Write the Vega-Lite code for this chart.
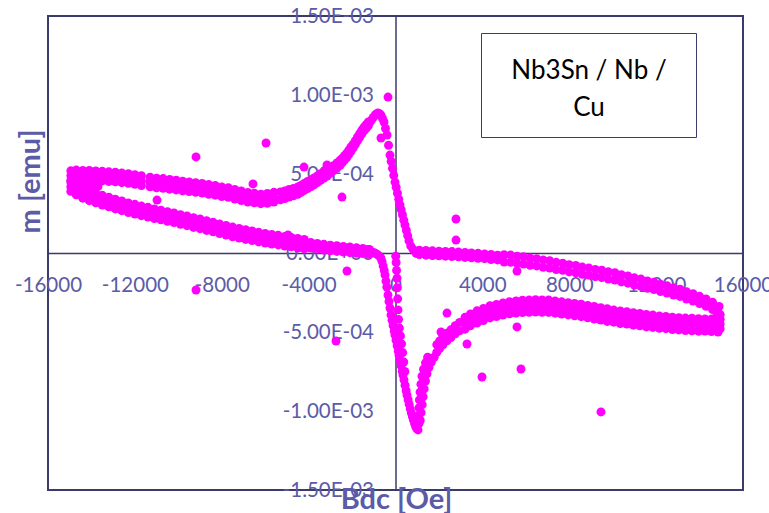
{
  "$schema": "https://vega.github.io/schema/vega-lite/v6.json",
  "width": 695,
  "height": 474,
  "autosize": {"type": "none"},
  "padding": {"left": 48, "top": 16, "right": 26, "bottom": 23},
  "background": "white",
  "config": {"view": {"stroke": "#3b3b6b", "strokeWidth": 2}, "font": "Lato"},
  "data": {"values": [
    {"H":14900,"m":-3.38e-4},{"H":14900,"m":-3.85e-4},
    {"H":14600,"m":-3.12e-4},{"H":14600,"m":-3.58e-4},
    {"H":14300,"m":-2.91e-4},{"H":14300,"m":-3.37e-4},
    {"H":14000,"m":-2.74e-4},{"H":14000,"m":-3.2e-4},
    {"H":13700,"m":-2.58e-4},{"H":13700,"m":-3.04e-4},
    {"H":13400,"m":-2.45e-4},{"H":13400,"m":-2.91e-4},
    {"H":13100,"m":-2.29e-4},{"H":13100,"m":-2.75e-4},
    {"H":12800,"m":-2.2e-4},{"H":12800,"m":-2.66e-4},
    {"H":12500,"m":-2.07e-4},{"H":12500,"m":-2.53e-4},
    {"H":12200,"m":-1.98e-4},{"H":12200,"m":-2.44e-4},
    {"H":11900,"m":-1.85e-4},{"H":11900,"m":-2.31e-4},
    {"H":11600,"m":-1.77e-4},{"H":11600,"m":-2.23e-4},
    {"H":11300,"m":-1.65e-4},{"H":11300,"m":-2.11e-4},
    {"H":11000,"m":-1.57e-4},{"H":11000,"m":-2.03e-4},
    {"H":10700,"m":-1.45e-4},{"H":10700,"m":-1.91e-4},
    {"H":10400,"m":-1.37e-4},{"H":10400,"m":-1.83e-4},
    {"H":10100,"m":-1.25e-4},{"H":10100,"m":-1.71e-4},
    {"H":9800,"m":-1.19e-4},{"H":9800,"m":-1.65e-4},
    {"H":9500,"m":-1.09e-4},{"H":9500,"m":-1.55e-4},
    {"H":9200,"m":-1.04e-4},{"H":9200,"m":-1.5e-4},
    {"H":8900,"m":-0.94e-4},{"H":8900,"m":-1.4e-4},
    {"H":8600,"m":-0.89e-4},{"H":8600,"m":-1.35e-4},
    {"H":8300,"m":-0.79e-4},{"H":8300,"m":-1.25e-4},
    {"H":8000,"m":-0.74e-4},{"H":8000,"m":-1.2e-4},
    {"H":7700,"m":-0.64e-4},{"H":7700,"m":-1.1e-4},
    {"H":7400,"m":-0.59e-4},{"H":7400,"m":-1.05e-4},
    {"H":7100,"m":-0.49e-4},{"H":7100,"m":-0.95e-4},
    {"H":6800,"m":-0.44e-4},{"H":6800,"m":-0.9e-4},
    {"H":6500,"m":-0.36e-4},{"H":6500,"m":-0.82e-4},
    {"H":6200,"m":-0.32e-4},{"H":6200,"m":-0.78e-4},
    {"H":5900,"m":-0.24e-4},{"H":5900,"m":-0.7e-4},
    {"H":5600,"m":-0.2e-4},{"H":5600,"m":-0.66e-4},
    {"H":5300,"m":-0.13e-4},{"H":5300,"m":-0.59e-4},
    {"H":5000,"m":-0.11e-4},{"H":5000,"m":-0.57e-4},
    {"H":4700,"m":-0.14e-4},{"H":4700,"m":-0.44e-4},
    {"H":4400,"m":-0.09e-4},{"H":4400,"m":-0.41e-4},
    {"H":4100,"m":-0.06e-4},{"H":4100,"m":-0.36e-4},
    {"H":3800,"m":-0.02e-4},{"H":3800,"m":-0.34e-4},
    {"H":3500,"m":0},{"H":3500,"m":-0.3e-4},
    {"H":3200,"m":0.04e-4},{"H":3200,"m":-0.28e-4},
    {"H":2900,"m":0.06e-4},{"H":2900,"m":-0.24e-4},
    {"H":2600,"m":0.09e-4},{"H":2600,"m":-0.23e-4},
    {"H":2300,"m":0.1e-4},{"H":2300,"m":-0.2e-4},
    {"H":2000,"m":0.12e-4},{"H":2000,"m":-0.18e-4},
    {"H":1700,"m":0.14e-4},{"H":1700,"m":-0.16e-4},
    {"H":1400,"m":0.16e-4},{"H":1400,"m":-0.14e-4},
    {"H":1100,"m":0.18e-4},{"H":1100,"m":-0.1e-4},
    {"H":900,"m":0.12e-4},{"H":950,"m":-0.02e-4},
    {"H":14950,"m":-3.9e-4},{"H":14950,"m":-4.2e-4},{"H":14950,"m":-4.5e-4},{"H":14950,"m":-4.8e-4},{"H":14850,"m":-5.0e-4},{"H":14800,"m":-3.7e-4},{"H":14750,"m":-4.1e-4},
    {"H":800,"m":0.25e-4},{"H":700,"m":0.45e-4},{"H":620,"m":0.77e-4},{"H":560,"m":1.1e-4},{"H":500,"m":1.43e-4},{"H":437,"m":1.77e-4},{"H":380,"m":2.08e-4},{"H":320,"m":2.42e-4},{"H":260,"m":2.75e-4},{"H":207,"m":3.04e-4},{"H":150,"m":3.4e-4},{"H":90,"m":3.78e-4},{"H":30,"m":4.16e-4},{"H":-23,"m":4.49e-4},{"H":-80,"m":4.91e-4},{"H":-140,"m":5.36e-4},{"H":-200,"m":5.8e-4},{"H":-253,"m":6.2e-4},{"H":-320,"m":6.82e-4},{"H":-391,"m":7.47e-4},{"H":-460,"m":7.88e-4},{"H":-529,"m":8.29e-4},{"H":-600,"m":8.52e-4},{"H":-668,"m":8.73e-4},{"H":-740,"m":8.82e-4},{"H":-806,"m":8.86e-4},{"H":-880,"m":8.8e-4},{"H":-944,"m":8.73e-4},{"H":-1020,"m":8.58e-4},{"H":-1100,"m":8.43e-4},{"H":-1174,"m":8.29e-4},
    {"H":-1250,"m":8.29e-4},{"H":-1250,"m":8.05e-4},
    {"H":-1350,"m":8.13e-4},{"H":-1350,"m":7.89e-4},
    {"H":-1450,"m":7.97e-4},{"H":-1450,"m":7.73e-4},
    {"H":-1550,"m":7.78e-4},{"H":-1550,"m":7.54e-4},
    {"H":-1650,"m":7.56e-4},{"H":-1650,"m":7.32e-4},
    {"H":-1750,"m":7.34e-4},{"H":-1750,"m":7.1e-4},
    {"H":-1850,"m":7.11e-4},{"H":-1850,"m":6.87e-4},
    {"H":-1950,"m":6.89e-4},{"H":-1950,"m":6.65e-4},
    {"H":-2050,"m":6.72e-4},{"H":-2050,"m":6.44e-4},
    {"H":-2150,"m":6.51e-4},{"H":-2150,"m":6.23e-4},
    {"H":-2250,"m":6.31e-4},{"H":-2250,"m":6.03e-4},
    {"H":-2350,"m":6.16e-4},{"H":-2350,"m":5.88e-4},
    {"H":-2450,"m":6.0e-4},{"H":-2450,"m":5.72e-4},
    {"H":-2550,"m":5.87e-4},{"H":-2550,"m":5.55e-4},
    {"H":-2700,"m":5.7e-4},{"H":-2700,"m":5.38e-4},
    {"H":-2850,"m":5.53e-4},{"H":-2850,"m":5.21e-4},
    {"H":-3000,"m":5.38e-4},{"H":-3000,"m":5.04e-4},
    {"H":-3150,"m":5.27e-4},{"H":-3150,"m":4.87e-4},
    {"H":-3300,"m":5.14e-4},{"H":-3300,"m":4.74e-4},
    {"H":-3450,"m":5.02e-4},{"H":-3450,"m":4.6e-4},
    {"H":-3600,"m":4.88e-4},{"H":-3600,"m":4.46e-4},
    {"H":-3750,"m":4.75e-4},{"H":-3750,"m":4.31e-4},
    {"H":-3900,"m":4.63e-4},{"H":-3900,"m":4.19e-4},
    {"H":-4050,"m":4.52e-4},{"H":-4050,"m":4.08e-4},
    {"H":-4200,"m":4.4e-4},{"H":-4200,"m":3.96e-4},
    {"H":-4350,"m":4.28e-4},{"H":-4350,"m":3.84e-4},
    {"H":-4500,"m":4.18e-4},{"H":-4500,"m":3.72e-4},
    {"H":-4700,"m":4.08e-4},{"H":-4700,"m":3.62e-4},
    {"H":-4900,"m":4.02e-4},{"H":-4900,"m":3.54e-4},
    {"H":-5100,"m":3.93e-4},{"H":-5100,"m":3.45e-4},
    {"H":-5300,"m":3.87e-4},{"H":-5300,"m":3.37e-4},
    {"H":-5600,"m":3.84e-4},{"H":-5600,"m":3.52e-4},{"H":-5600,"m":3.23e-4},
    {"H":-5900,"m":3.77e-4},{"H":-5900,"m":3.45e-4},{"H":-5900,"m":3.15e-4},
    {"H":-6200,"m":3.72e-4},{"H":-6200,"m":3.44e-4},{"H":-6200,"m":3.12e-4},
    {"H":-6500,"m":3.79e-4},{"H":-6500,"m":3.47e-4},{"H":-6500,"m":3.18e-4},
    {"H":-6800,"m":3.83e-4},{"H":-6800,"m":3.55e-4},{"H":-6800,"m":3.22e-4},
    {"H":-7100,"m":3.93e-4},{"H":-7100,"m":3.61e-4},{"H":-7100,"m":3.32e-4},
    {"H":-7400,"m":4.02e-4},{"H":-7400,"m":3.73e-4},{"H":-7400,"m":3.41e-4},
    {"H":-7700,"m":4.13e-4},{"H":-7700,"m":3.81e-4},{"H":-7700,"m":3.52e-4},
    {"H":-8000,"m":4.18e-4},{"H":-8000,"m":3.89e-4},{"H":-8000,"m":3.57e-4},
    {"H":-8300,"m":4.27e-4},{"H":-8300,"m":3.95e-4},{"H":-8300,"m":3.66e-4},
    {"H":-8600,"m":4.33e-4},{"H":-8600,"m":4.04e-4},{"H":-8600,"m":3.72e-4},
    {"H":-8900,"m":4.4e-4},{"H":-8900,"m":4.08e-4},{"H":-8900,"m":3.79e-4},
    {"H":-9200,"m":4.45e-4},{"H":-9200,"m":4.16e-4},{"H":-9200,"m":3.84e-4},
    {"H":-9500,"m":4.5e-4},{"H":-9500,"m":4.18e-4},{"H":-9500,"m":3.89e-4},
    {"H":-9800,"m":4.54e-4},{"H":-9800,"m":4.25e-4},{"H":-9800,"m":3.93e-4},
    {"H":-10100,"m":4.61e-4},{"H":-10100,"m":4.29e-4},{"H":-10100,"m":3.99e-4},
    {"H":-10400,"m":4.65e-4},{"H":-10400,"m":4.36e-4},{"H":-10400,"m":4.04e-4},
    {"H":-10700,"m":4.71e-4},{"H":-10700,"m":4.39e-4},{"H":-10700,"m":4.1e-4},
    {"H":-11000,"m":4.74e-4},{"H":-11000,"m":4.45e-4},{"H":-11000,"m":4.13e-4},
    {"H":-11300,"m":4.8e-4},{"H":-11300,"m":4.48e-4},{"H":-11300,"m":4.19e-4},
    {"H":-11700,"m":4.89e-4},{"H":-11700,"m":4.57e-4},{"H":-11700,"m":4.27e-4},
    {"H":-12000,"m":4.96e-4},{"H":-12000,"m":4.67e-4},{"H":-12000,"m":4.35e-4},
    {"H":-12300,"m":5.02e-4},{"H":-12300,"m":4.7e-4},{"H":-12300,"m":4.41e-4},
    {"H":-12600,"m":5.06e-4},{"H":-12600,"m":4.77e-4},{"H":-12600,"m":4.45e-4},
    {"H":-12900,"m":5.12e-4},{"H":-12900,"m":4.8e-4},{"H":-12900,"m":4.51e-4},
    {"H":-13200,"m":5.14e-4},{"H":-13200,"m":4.85e-4},{"H":-13200,"m":4.53e-4},
    {"H":-13500,"m":5.17e-4},{"H":-13500,"m":4.85e-4},{"H":-13500,"m":4.56e-4},
    {"H":-13800,"m":5.19e-4},{"H":-13800,"m":4.9e-4},{"H":-13800,"m":4.58e-4},
    {"H":-14100,"m":5.22e-4},{"H":-14100,"m":4.9e-4},{"H":-14100,"m":4.61e-4},
    {"H":-14400,"m":5.23e-4},{"H":-14400,"m":4.94e-4},{"H":-14400,"m":4.62e-4},
    {"H":-14700,"m":5.25e-4},{"H":-14700,"m":4.93e-4},{"H":-14700,"m":4.64e-4},
    {"H":-14950,"m":5.2e-4},{"H":-14950,"m":4.9e-4},{"H":-14950,"m":4.6e-4},
    {"H":-13700,"m":4.2e-4},{"H":-14000,"m":4.2e-4},{"H":-14300,"m":4.25e-4},{"H":-14600,"m":4.3e-4},{"H":-14900,"m":4.35e-4},
    {"H":-14950,"m":4.5e-4},{"H":-14950,"m":4.2e-4},{"H":-14950,"m":3.9e-4},
    {"H":-14700,"m":4.28e-4},{"H":-14700,"m":3.97e-4},{"H":-14700,"m":3.68e-4},
    {"H":-14400,"m":4.09e-4},{"H":-14400,"m":3.78e-4},{"H":-14400,"m":3.47e-4},
    {"H":-14100,"m":3.92e-4},{"H":-14100,"m":3.63e-4},{"H":-14100,"m":3.31e-4},
    {"H":-13800,"m":3.79e-4},{"H":-13800,"m":3.47e-4},{"H":-13800,"m":3.18e-4},
    {"H":-13500,"m":3.65e-4},{"H":-13500,"m":3.36e-4},{"H":-13500,"m":3.04e-4},
    {"H":-13200,"m":3.53e-4},{"H":-13200,"m":3.21e-4},{"H":-13200,"m":2.92e-4},
    {"H":-12900,"m":3.4e-4},{"H":-12900,"m":3.11e-4},{"H":-12900,"m":2.79e-4},
    {"H":-12600,"m":3.29e-4},{"H":-12600,"m":2.97e-4},{"H":-12600,"m":2.68e-4},
    {"H":-12300,"m":3.17e-4},{"H":-12300,"m":2.88e-4},{"H":-12300,"m":2.56e-4},
    {"H":-12000,"m":3.08e-4},{"H":-12000,"m":2.76e-4},{"H":-12000,"m":2.47e-4},
    {"H":-11700,"m":2.97e-4},{"H":-11700,"m":2.68e-4},{"H":-11700,"m":2.36e-4},
    {"H":-11400,"m":2.89e-4},{"H":-11400,"m":2.57e-4},{"H":-11400,"m":2.28e-4},
    {"H":-11100,"m":2.79e-4},{"H":-11100,"m":2.5e-4},{"H":-11100,"m":2.18e-4},
    {"H":-10800,"m":2.71e-4},{"H":-10800,"m":2.39e-4},{"H":-10800,"m":2.1e-4},
    {"H":-10500,"m":2.62e-4},{"H":-10500,"m":2.33e-4},{"H":-10500,"m":2.01e-4},
    {"H":-10200,"m":2.54e-4},{"H":-10200,"m":2.22e-4},{"H":-10200,"m":1.93e-4},
    {"H":-9900,"m":2.43e-4},{"H":-9900,"m":2.14e-4},{"H":-9900,"m":1.82e-4},
    {"H":-9600,"m":2.34e-4},{"H":-9600,"m":2.02e-4},{"H":-9600,"m":1.73e-4},
    {"H":-9300,"m":2.23e-4},{"H":-9300,"m":1.94e-4},{"H":-9300,"m":1.62e-4},
    {"H":-9000,"m":2.15e-4},{"H":-9000,"m":1.83e-4},{"H":-9000,"m":1.54e-4},
    {"H":-8700,"m":2.04e-4},{"H":-8700,"m":1.75e-4},{"H":-8700,"m":1.43e-4},
    {"H":-8400,"m":1.95e-4},{"H":-8400,"m":1.63e-4},{"H":-8400,"m":1.34e-4},
    {"H":-8100,"m":1.84e-4},{"H":-8100,"m":1.55e-4},{"H":-8100,"m":1.23e-4},
    {"H":-7800,"m":1.75e-4},{"H":-7800,"m":1.43e-4},{"H":-7800,"m":1.14e-4},
    {"H":-7500,"m":1.64e-4},{"H":-7500,"m":1.35e-4},{"H":-7500,"m":1.03e-4},
    {"H":-7200,"m":1.56e-4},{"H":-7200,"m":1.24e-4},{"H":-7200,"m":0.95e-4},
    {"H":-6900,"m":1.47e-4},{"H":-6900,"m":1.18e-4},{"H":-6900,"m":0.86e-4},
    {"H":-6600,"m":1.4e-4},{"H":-6600,"m":1.08e-4},{"H":-6600,"m":0.79e-4},
    {"H":-6300,"m":1.31e-4},{"H":-6300,"m":1.02e-4},{"H":-6300,"m":0.7e-4},
    {"H":-6000,"m":1.24e-4},{"H":-6000,"m":0.92e-4},{"H":-6000,"m":0.63e-4},
    {"H":-5700,"m":1.17e-4},{"H":-5700,"m":0.88e-4},{"H":-5700,"m":0.56e-4},
    {"H":-5400,"m":1.12e-4},{"H":-5400,"m":0.8e-4},{"H":-5400,"m":0.51e-4},
    {"H":-5100,"m":1.05e-4},{"H":-5100,"m":0.76e-4},{"H":-5100,"m":0.44e-4},
    {"H":-4800,"m":0.99e-4},{"H":-4800,"m":0.68e-4},{"H":-4800,"m":0.39e-4},
    {"H":-4500,"m":0.92e-4},{"H":-4500,"m":0.63e-4},{"H":-4500,"m":0.31e-4},
    {"H":-4200,"m":0.86e-4},{"H":-4200,"m":0.55e-4},{"H":-4200,"m":0.26e-4},
    {"H":-3900,"m":0.67e-4},{"H":-3900,"m":0.31e-4},
    {"H":-3600,"m":0.61e-4},{"H":-3600,"m":0.25e-4},
    {"H":-3300,"m":0.55e-4},{"H":-3300,"m":0.19e-4},
    {"H":-3000,"m":0.5e-4},{"H":-3000,"m":0.14e-4},
    {"H":-2700,"m":0.46e-4},{"H":-2700,"m":0.1e-4},
    {"H":-2400,"m":0.42e-4},{"H":-2400,"m":0.06e-4},
    {"H":-2100,"m":0.38e-4},{"H":-2100,"m":0.02e-4},
    {"H":-1800,"m":0.33e-4},{"H":-1800,"m":-0.01e-4},
    {"H":-1500,"m":0.29e-4},{"H":-1500,"m":-0.03e-4},
    {"H":-1200,"m":0.22e-4},{"H":-1200,"m":-0.08e-4},
    {"H":-1050,"m":0.05e-4},{"H":-950,"m":0},
    {"H":-850,"m":-0.08e-4},{"H":-760,"m":-0.18e-4},{"H":-680,"m":-0.3e-4},{"H":-620,"m":-0.53e-4},{"H":-570,"m":-0.82e-4},{"H":-520,"m":-1.1e-4},{"H":-483,"m":-1.39e-4},{"H":-440,"m":-1.78e-4},{"H":-400,"m":-2.15e-4},{"H":-345,"m":-2.66e-4},{"H":-300,"m":-3.07e-4},{"H":-255,"m":-3.48e-4},{"H":-207,"m":-3.92e-4},{"H":-160,"m":-4.25e-4},{"H":-110,"m":-4.59e-4},{"H":-60,"m":-4.93e-4},{"H":-23,"m":-5.19e-4},{"H":25,"m":-5.52e-4},{"H":75,"m":-5.87e-4},{"H":125,"m":-6.21e-4},{"H":161,"m":-6.46e-4},{"H":210,"m":-6.79e-4},{"H":260,"m":-7.14e-4},{"H":310,"m":-7.48e-4},{"H":345,"m":-7.72e-4},{"H":390,"m":-8.03e-4},{"H":440,"m":-8.37e-4},{"H":490,"m":-8.72e-4},{"H":529,"m":-8.99e-4},{"H":580,"m":-9.29e-4},{"H":630,"m":-9.58e-4},{"H":680,"m":-9.86e-4},{"H":730,"m":-10.13e-4},{"H":780,"m":-10.36e-4},{"H":830,"m":-10.58e-4},{"H":880,"m":-10.8e-4},{"H":930,"m":-10.99e-4},{"H":980,"m":-11.12e-4},{"H":1036,"m":-11.2e-4},
    {"H":10,"m":-0.2e-4},{"H":30,"m":-0.6e-4},{"H":50,"m":-1.1e-4},{"H":69,"m":-1.6e-4},{"H":85,"m":-2.2e-4},{"H":100,"m":-2.9e-4},{"H":115,"m":-3.6e-4},{"H":140,"m":-4.2e-4},{"H":180,"m":-4.75e-4},{"H":230,"m":-5.25e-4},{"H":280,"m":-5.75e-4},{"H":330,"m":-6.3e-4},{"H":380,"m":-6.9e-4},{"H":430,"m":-7.5e-4},
    {"H":1080,"m":-10.8e-4},{"H":1140,"m":-10.6e-4},
    {"H":1060,"m":-10.3e-4},{"H":1180,"m":-10.1e-4},
    {"H":1080,"m":-9.8e-4},{"H":1230,"m":-9.6e-4},
    {"H":1100,"m":-9.3e-4},{"H":1270,"m":-9.1e-4},
    {"H":1130,"m":-8.8e-4},{"H":1320,"m":-8.6e-4},
    {"H":1170,"m":-8.3e-4},{"H":1380,"m":-8.1e-4},
    {"H":1220,"m":-7.8e-4},{"H":1450,"m":-7.65e-4},
    {"H":1290,"m":-7.35e-4},{"H":1540,"m":-7.25e-4},
    {"H":1380,"m":-6.95e-4},{"H":1650,"m":-6.9e-4},
    {"H":1480,"m":-6.6e-4},{"H":1780,"m":-6.6e-4},
    {"H":1900,"m":-5.8e-4},{"H":1900,"m":-6.28e-4},
    {"H":2030,"m":-5.57e-4},{"H":2030,"m":-6.05e-4},
    {"H":2180,"m":-5.35e-4},{"H":2180,"m":-5.82e-4},
    {"H":2371,"m":-5.08e-4},{"H":2371,"m":-5.56e-4},
    {"H":2550,"m":-4.86e-4},{"H":2550,"m":-5.35e-4},
    {"H":2750,"m":-4.6e-4},{"H":2750,"m":-5.12e-4},
    {"H":2950,"m":-4.39e-4},{"H":2950,"m":-4.92e-4},
    {"H":3200,"m":-4.07e-4},{"H":3200,"m":-4.44e-4},{"H":3200,"m":-4.82e-4},
    {"H":3450,"m":-3.86e-4},{"H":3450,"m":-4.24e-4},{"H":3450,"m":-4.61e-4},
    {"H":3750,"m":-3.66e-4},{"H":3750,"m":-4.05e-4},{"H":3750,"m":-4.44e-4},
    {"H":4050,"m":-3.51e-4},{"H":4050,"m":-3.88e-4},{"H":4050,"m":-4.27e-4},
    {"H":4350,"m":-3.34e-4},{"H":4350,"m":-3.74e-4},{"H":4350,"m":-4.11e-4},
    {"H":4650,"m":-3.25e-4},{"H":4650,"m":-3.62e-4},{"H":4650,"m":-4.02e-4},
    {"H":4950,"m":-3.16e-4},{"H":4950,"m":-3.55e-4},{"H":4950,"m":-3.93e-4},
    {"H":5250,"m":-3.08e-4},{"H":5250,"m":-3.45e-4},{"H":5250,"m":-3.85e-4},
    {"H":5550,"m":-3.03e-4},{"H":5550,"m":-3.42e-4},{"H":5550,"m":-3.8e-4},
    {"H":5850,"m":-2.99e-4},{"H":5850,"m":-3.37e-4},{"H":5850,"m":-3.77e-4},
    {"H":6150,"m":-2.98e-4},{"H":6150,"m":-3.36e-4},{"H":6150,"m":-3.75e-4},
    {"H":6450,"m":-2.96e-4},{"H":6450,"m":-3.35e-4},{"H":6450,"m":-3.74e-4},
    {"H":6750,"m":-2.97e-4},{"H":6750,"m":-3.34e-4},{"H":6750,"m":-3.75e-4},
    {"H":7050,"m":-2.98e-4},{"H":7050,"m":-3.37e-4},{"H":7050,"m":-3.76e-4},
    {"H":7350,"m":-3.03e-4},{"H":7350,"m":-3.4e-4},{"H":7350,"m":-3.81e-4},
    {"H":7650,"m":-3.09e-4},{"H":7650,"m":-3.48e-4},{"H":7650,"m":-3.87e-4},
    {"H":7950,"m":-3.14e-4},{"H":7950,"m":-3.51e-4},{"H":7950,"m":-3.92e-4},
    {"H":8250,"m":-3.19e-4},{"H":8250,"m":-3.58e-4},{"H":8250,"m":-3.97e-4},
    {"H":8550,"m":-3.24e-4},{"H":8550,"m":-3.61e-4},{"H":8550,"m":-4.03e-4},
    {"H":8850,"m":-3.32e-4},{"H":8850,"m":-3.71e-4},{"H":8850,"m":-4.1e-4},
    {"H":9150,"m":-3.38e-4},{"H":9150,"m":-3.76e-4},{"H":9150,"m":-4.18e-4},
    {"H":9450,"m":-3.46e-4},{"H":9450,"m":-3.85e-4},{"H":9450,"m":-4.24e-4},
    {"H":9750,"m":-3.53e-4},{"H":9750,"m":-3.91e-4},{"H":9750,"m":-4.33e-4},
    {"H":10050,"m":-3.61e-4},{"H":10050,"m":-4.0e-4},{"H":10050,"m":-4.38e-4},
    {"H":10350,"m":-3.67e-4},{"H":10350,"m":-4.04e-4},{"H":10350,"m":-4.46e-4},
    {"H":10650,"m":-3.72e-4},{"H":10650,"m":-4.12e-4},{"H":10650,"m":-4.5e-4},
    {"H":10950,"m":-3.78e-4},{"H":10950,"m":-4.15e-4},{"H":10950,"m":-4.57e-4},
    {"H":11250,"m":-3.83e-4},{"H":11250,"m":-4.23e-4},{"H":11250,"m":-4.61e-4},
    {"H":11550,"m":-3.89e-4},{"H":11550,"m":-4.26e-4},{"H":11550,"m":-4.68e-4},
    {"H":11850,"m":-3.93e-4},{"H":11850,"m":-4.33e-4},{"H":11850,"m":-4.71e-4},
    {"H":12150,"m":-3.98e-4},{"H":12150,"m":-4.35e-4},{"H":12150,"m":-4.77e-4},
    {"H":12450,"m":-4.01e-4},{"H":12450,"m":-4.41e-4},{"H":12450,"m":-4.79e-4},
    {"H":12750,"m":-4.06e-4},{"H":12750,"m":-4.43e-4},{"H":12750,"m":-4.85e-4},
    {"H":13050,"m":-4.09e-4},{"H":13050,"m":-4.49e-4},{"H":13050,"m":-4.87e-4},
    {"H":13350,"m":-4.12e-4},{"H":13350,"m":-4.5e-4},{"H":13350,"m":-4.91e-4},
    {"H":13650,"m":-4.13e-4},{"H":13650,"m":-4.53e-4},{"H":13650,"m":-4.92e-4},
    {"H":13950,"m":-4.16e-4},{"H":13950,"m":-4.53e-4},{"H":13950,"m":-4.95e-4},
    {"H":14250,"m":-4.17e-4},{"H":14250,"m":-4.56e-4},{"H":14250,"m":-4.94e-4},
    {"H":14550,"m":-4.18e-4},{"H":14550,"m":-4.55e-4},{"H":14550,"m":-4.97e-4},
    {"H":14850,"m":-4.05e-4},{"H":14850,"m":-4.42e-4},{"H":14850,"m":-4.8e-4},
    {"H":-345,"m":9.87e-4},{"H":-9185,"m":6.08e-4},{"H":-5962,"m":6.96e-4},{"H":-4213,"m":5.44e-4},{"H":-3154,"m":5.57e-4},{"H":-2463,"m":3.54e-4},{"H":-6561,"m":4.37e-4},{"H":-4949,"m":1.14e-4},{"H":-10980,"m":3.35e-4},{"H":-668,"m":7.28e-4},{"H":-9185,"m":-2.34e-4},{"H":-2233,"m":-1.14e-4},{"H":-2739,"m":-5.57e-4},{"H":2785,"m":2.15e-4},{"H":2785,"m":0.82e-4},{"H":2371,"m":-3.8e-4},{"H":2095,"m":-5.0e-4},{"H":3292,"m":-5.76e-4},{"H":3983,"m":-7.85e-4},{"H":5778,"m":-7.34e-4},{"H":5594,"m":-4.68e-4},{"H":5594,"m":-1.14e-4},{"H":9461,"m":-10.06e-4}
  ]},
  "mark": {"type": "circle", "size": 80, "opacity": 1},
  "encoding": {
    "x": {
      "field": "H", "type": "quantitative",
      "scale": {"domain": [-16000, 16000], "nice": false, "zero": false},
      "axis": {
        "title": "Bdc [Oe]",
        "values": [-16000, -12000, -8000, -4000, 0, 4000, 8000, 12000, 16000],
        "offset": -237, "ticks": false, "tickSize": 0, "grid": false,
        "domainColor": "#3b3b6b", "domainWidth": 1.5,
        "labelFont": "Lato", "labelFontSize": 20.5, "labelColor": "#5b5ba8",
        "labelPadding": 22, "labelFlush": false, "labelOverlap": false, "labelBound": false,
        "labelExpr": "datum.value < 0 ? '-' + format(-datum.value, 'd') : format(datum.value, 'd')",
        "titleFont": "Lato", "titleFontSize": 29, "titleFontWeight": "bold", "titleColor": "#5b5ba8",
        "titleX": 348, "titleY": 255, "titleBaseline": "alphabetic", "titleAlign": "center"
      }
    },
    "y": {
      "field": "m", "type": "quantitative",
      "scale": {"domain": [-0.0015, 0.0015], "nice": false},
      "axis": {
        "title": "m [emu]",
        "values": [-0.0015, -0.001, -0.0005, 0, 0.0005, 0.001, 0.0015],
        "offset": -347.5, "ticks": false, "tickSize": 0, "grid": false,
        "domainColor": "#3b3b6b", "domainWidth": 1.5,
        "labelFont": "Lato", "labelFontSize": 20.5, "labelColor": "#5b5ba8",
        "labelPadding": 22, "labelFlush": false, "labelOverlap": false, "labelBound": false,
        "labelExpr": "(datum.value < 0 ? '-' : '') + replace(replace(format(abs(datum.value), '.2e'), 'e-', 'E-0'), 'e+', 'E+0')",
        "titleFont": "Lato", "titleFontSize": 29, "titleFontWeight": "bold", "titleColor": "#5b5ba8",
        "titleX": -365.5, "titleY": 165, "titleAngle": 270, "titleBaseline": "middle", "titleAlign": "center"
      }
    },
    "color": {
      "datum": "Nb3Sn / Nb / Cu",
      "scale": {"range": ["#ff00ff"]},
      "legend": {
        "orient": "none", "legendX": 433, "legendY": 17,
        "title": ["Nb3Sn / Nb /", "Cu"],
        "titleFont": "Lato", "titleFontSize": 26, "titleFontWeight": "normal", "titleColor": "#000000",
        "titleLineHeight": 37, "titleAlign": "center", "titleAnchor": "middle", "titlePadding": 0,
        "titleOrient": "bottom", "titleLimit": 400,
        "padding": 16, "strokeColor": "#3b3b6b", "fillColor": "white",
        "symbolOpacity": 0, "symbolSize": 81, "symbolStrokeWidth": 0, "symbolType": "square", "symbolOffset": 174,
        "labelExpr": "''", "labelFontSize": 1, "labelOffset": 0
      }
    }
  }
}
